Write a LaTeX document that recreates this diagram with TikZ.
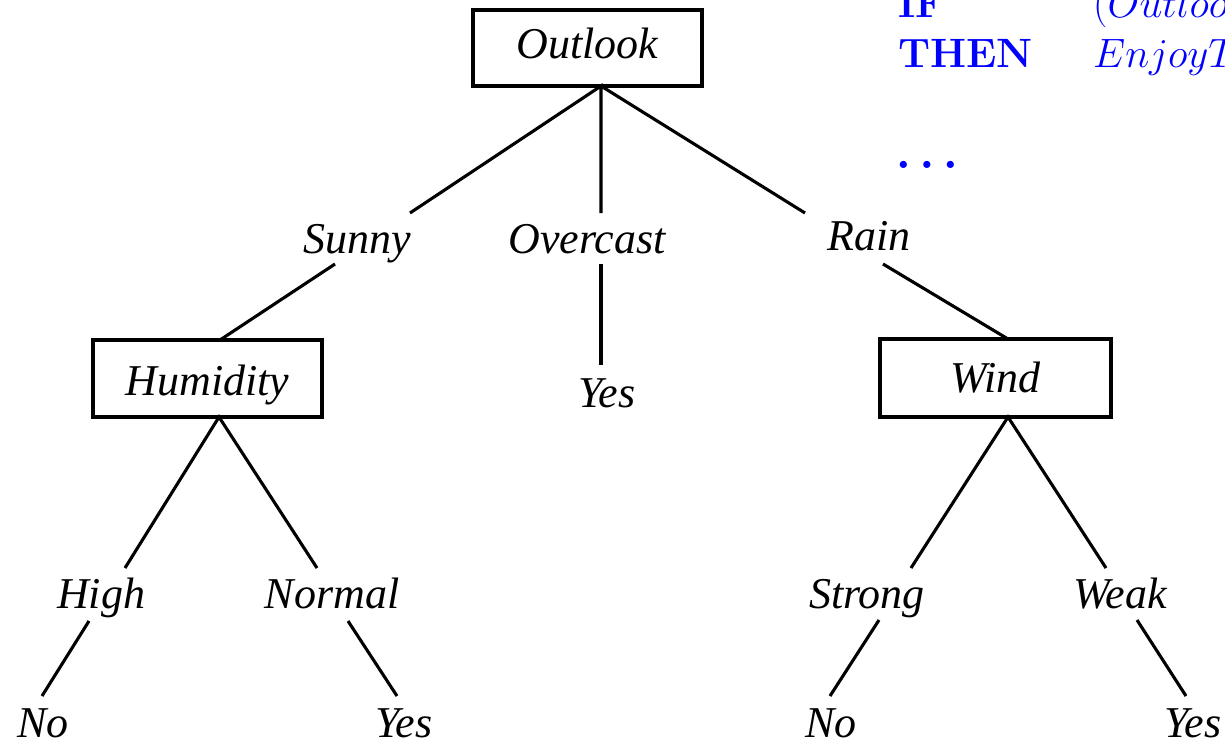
\documentclass[tikz,border=0pt]{standalone}
\usepackage{fix-cm}
\usepackage{fontspec}
\newfontfamily\tnr{Liberation Serif}
\begin{document}
\begin{tikzpicture}[x=1pt,y=-1pt,
  lab/.style={anchor=base,inner sep=0pt,font=\tnr\itshape\fontsize{44}{48}\selectfont},
  box/.style={lab,draw,line width=3.1pt},
  edge/.style={line width=3.1pt},
  rule/.style={anchor=base west,inner sep=0pt,text=blue,font=\fontsize{41}{50}\selectfont}]
\useasboundingbox (0,0) rectangle (1225,740);
\clip (0,0) rectangle (1225,740);
% boxes
\node[box,minimum width=229pt,text height=48pt,text depth=28pt] (outlook) at (587.5,58) {Outlook};
\node[box,minimum width=229pt,text height=55.5pt,text depth=21.5pt] (humidity) at (207.5,395.5) {Humidity};
\node[box,minimum width=231pt,text height=53pt,text depth=25pt] (wind) at (995.5,392) {Wind};
% labels
\node[lab] (sunny) at (357,253) {Sunny};
\node[lab] (overcast) at (587,253) {Overcast};
\node[lab] (rain) at (869,250) {Rain};
\node[lab] (yesM) at (607,407) {Yes};
\node[lab] (high) at (101,608) {High};
\node[lab] (normal) at (332,608) {Normal};
\node[lab] (strong) at (867,608) {Strong};
\node[lab] (weak) at (1120,608) {Weak};
\node[lab] (noL) at (43,737) {No};
\node[lab] (yesL) at (404,737) {Yes};
\node[lab] (noR) at (831,737) {No};
\node[lab] (yesR) at (1193,737) {Yes};
% rule text
\node[rule,font=\bfseries\fontsize{41}{50}\selectfont] (if) at (898,17) {IF};
\node[rule] (ifc) at (1093,17) {$(Outlook = Sunny) \wedge (Humidity = High)$};
\node[rule,font=\bfseries\fontsize{41}{50}\selectfont] (then) at (898,67) {THEN};
\node[rule] (thenc) at (1093,67) {$EnjoyTennis = No$};
\node[rule,font=\boldmath\fontsize{46}{50}\selectfont] (dots) at (896,168) {$\ldots$};
% connector end points
\coordinate (oA) at (601,86);
\coordinate (sunT) at (410,213);  \coordinate (sunB) at (335,264);
\coordinate (ovT) at (601,213);   \coordinate (ovB) at (601,264);
\coordinate (rainT) at (805,213); \coordinate (rainB) at (883,264);
\coordinate (humT) at (220,340);  \coordinate (humA) at (219,417);
\coordinate (yesT) at (601,365);
\coordinate (windT) at (1008,339); \coordinate (windA) at (1008,417);
\coordinate (highT) at (125,568); \coordinate (highB) at (89,621);  \coordinate (noLT) at (42,696);
\coordinate (normT) at (317,568); \coordinate (normB) at (348,621); \coordinate (yesLT) at (397,696);
\coordinate (strT) at (911,568);  \coordinate (strB) at (879,620);  \coordinate (noRT) at (830,696);
\coordinate (weakT) at (1106,568); \coordinate (weakB) at (1137,620); \coordinate (yesRT) at (1186,696);
% connectors
\draw[edge] (sunT) -- (oA) -- (ovT);
\draw[edge] (oA) -- (rainT);
\draw[edge] (sunB) -- (humT);
\draw[edge] (ovB) -- (yesT);
\draw[edge] (rainB) -- (windT);
\draw[edge] (highT) -- (humA) -- (normT);
\draw[edge] (highB) -- (noLT);
\draw[edge] (normB) -- (yesLT);
\draw[edge] (strT) -- (windA) -- (weakT);
\draw[edge] (strB) -- (noRT);
\draw[edge] (weakB) -- (yesRT);
\end{tikzpicture}
\end{document}
